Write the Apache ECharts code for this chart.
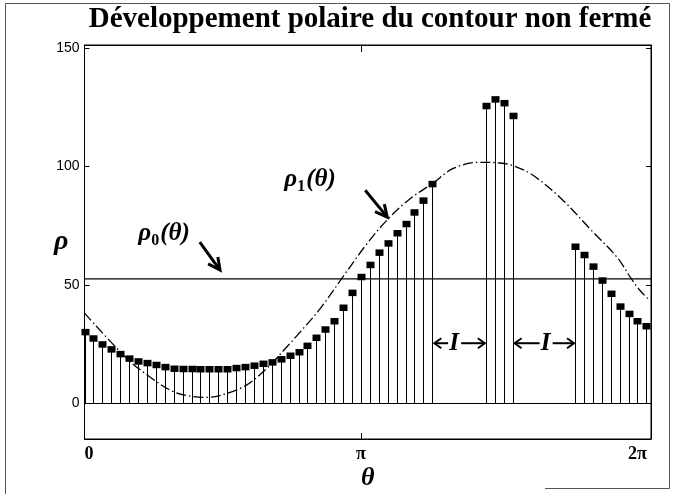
<!DOCTYPE html>
<html>
<head>
<meta charset="utf-8">
<script src="https://cdn.jsdelivr.net/npm/echarts@6/dist/echarts.min.js"></script>
<style>
html, body { margin: 0; padding: 0; background: #fff; }
#chart { width: 679px; height: 494px; }
</style>
</head>
<body>
<div id="chart"></div>
<script>
// Radius of the open contour at each angular sample (null where the contour has no point)
const rhoSamples = [
  30.1, 27.4, 24.9, 22.8, 20.8, 18.9, 17.7, 17.0, 16.2, 15.3,
  14.6, 14.5, 14.5, 14.4, 14.4, 14.4, 14.4, 14.9, 15.3, 15.9,
  16.7, 17.3, 18.6, 20.1, 21.6, 24.3, 27.7, 31.2, 34.7, 40.4,
  46.7, 53.4, 58.5, 63.7, 67.6, 71.9, 75.8, 80.7, 85.7, 92.7,
  null, null, null, null, null, 125.7, 128.5, 126.9, 121.5, null,
  null, null, null, null, null, 66.2, 62.7, 57.8, 51.9, 46.3,
  40.9, 37.8, 34.7, 32.6
];
// Angular sampling: number of samples per full turn
const samplesPerTurn = 62;

// Constant mean radius rho_0
const rho0 = 52.5;

// First-harmonic curve rho_1(theta)
const rho1Theta = [0, 0.48, 0.74, 1.01, 1.24, 1.39, 1.62, 1.84, 2.07, 2.30, 2.45, 2.68,
  2.92, 3.21, 3.45, 3.70, 3.96, 4.19, 4.49, 4.72, 4.87, 5.10, 5.43, 5.76, 6.05, 6.20, 6.31, 6.42];
const rho1Values = [38, 18.9, 11.1, 4.8, 2.7, 2.4, 4.1, 7.6, 14.6, 23.8, 30, 40,
  52.5, 67.4, 77.9, 86.4, 93, 99.2, 101.8, 101.5, 100.4, 96.2, 86, 73, 61.7, 53.3, 47.7, 43.5];

// Axis ticks
const thetaTicks = [0, Math.PI, 2 * Math.PI];
const thetaTickLabels = ['0', 'π', '2π'];
const rhoTicks = [0, 50, 100, 150];

const THETA_MAX = 6.437;
const RHO_MIN = -15.2;
const RHO_MAX = 151.4;

const step = 2 * Math.PI / samplesPerTurn;
const stemData = [];
rhoSamples.forEach((r, i) => { if (r !== null) stemData.push([i * step, r]); });
const rho1Data = rho1Theta.map((t, i) => [t, rho1Values[i]]);

const chart = echarts.init(document.getElementById('chart'), null, { renderer: 'canvas' });

const serif = '"Liberation Serif", "DejaVu Serif", serif';
const narrow = '"Liberation Sans Narrow", "Liberation Sans", sans-serif';

function thetaLabel(v) {
  for (let i = 0; i < thetaTicks.length; i++) {
    if (Math.abs(v - thetaTicks[i]) < 1e-6) return thetaTickLabels[i];
  }
  return '';
}

const option = {
  backgroundColor: '#fff',
  animation: false,
  grid: {
    left: 84.5, right: 28, top: 45, bottom: 55, outerBoundsMode: 'none', containLabel: false,
    show: true, borderColor: '#000', borderWidth: 1, backgroundColor: 'transparent'
  },
  xAxis: [
    {
      type: 'value', min: 0, max: THETA_MAX, position: 'bottom',
      name: 'θ', nameLocation: 'middle', nameGap: 26, nameMoveOverlap: false,
      nameTextStyle: { fontFamily: serif, fontStyle: 'italic', fontWeight: 'bold', fontSize: 26, color: '#000' },
      axisLine: { show: true, onZero: false, lineStyle: { color: '#000', width: 1 } },
      axisTick: { show: true, inside: true, length: 6, customValues: [Math.PI], lineStyle: { color: '#000' } },
      axisLabel: { customValues: thetaTicks, formatter: thetaLabel, margin: 6, alignMinLabel: 'left',
        fontFamily: serif, fontWeight: 'bold', fontSize: 18, color: '#000' },
      splitLine: { show: false }
    },
    {
      type: 'value', min: 0, max: THETA_MAX, position: 'top',
      axisLine: { show: true, onZero: false, lineStyle: { color: '#000', width: 1 } },
      axisTick: { show: true, inside: true, length: 7, customValues: [Math.PI], lineStyle: { color: '#000' } },
      axisLabel: { show: false }, splitLine: { show: false }
    }
  ],
  yAxis: [
    {
      type: 'value', min: RHO_MIN, max: RHO_MAX, position: 'left',
      name: 'ρ', nameLocation: 'middle', nameRotate: 0, nameGap: 16, nameMoveOverlap: false,
      nameTextStyle: { fontFamily: serif, fontStyle: 'italic', fontWeight: 'bold', fontSize: 28, color: '#000' },
      axisLine: { show: true, onZero: false, lineStyle: { color: '#000', width: 1 } },
      axisTick: { show: true, inside: true, length: 5, customValues: rhoTicks, lineStyle: { color: '#000' } },
      axisLabel: { customValues: rhoTicks, margin: 5, fontFamily: narrow, fontSize: 14, color: '#000' },
      splitLine: { show: false }
    },
    {
      type: 'value', min: RHO_MIN, max: RHO_MAX, position: 'right',
      axisLine: { show: true, onZero: false, lineStyle: { color: '#000', width: 1 } },
      axisTick: { show: true, inside: true, length: 5, customValues: rhoTicks, lineStyle: { color: '#000' } },
      axisLabel: { show: false }, splitLine: { show: false }
    }
  ],
  series: [
    {
      name: 'rho0', type: 'line', data: [[0, rho0], [THETA_MAX, rho0]],
      symbol: 'none', lineStyle: { color: '#000', width: 1.2 }, z: 3,
      markLine: {
        silent: true, symbol: 'none', label: { show: false },
        lineStyle: { color: '#000', width: 1.2, type: 'solid' },
        data: [{ yAxis: 0 }]
      }
    },
    {
      name: 'rho1', type: 'line', data: rho1Data, smooth: 0.35,
      symbol: 'none', lineStyle: { color: '#000', width: 1.3, type: [10, 3, 1.5, 3] }, z: 4
    },
    {
      name: 'contour', type: 'custom', data: stemData, z: 5,
      renderItem(params, api) {
        const t = api.value(0), r = api.value(1);
        const top = api.coord([t, r]);
        const base = api.coord([t, 0]);
        const x = Math.round(top[0]) + 0.5;
        return {
          type: 'group',
          children: [
            { type: 'line', shape: { x1: x, y1: top[1], x2: x, y2: base[1] }, style: { stroke: '#000', lineWidth: 1 } },
            { type: 'rect', shape: { x: x - 4, y: top[1] - 3, width: 8, height: 6.5 }, style: { fill: '#000' } }
          ]
        };
      }
    }
  ]
};

chart.setOption(option);

// ---- annotations (placed in data coordinates) ----
function px(t, r) { return chart.convertToPixel({ xAxisIndex: 0, yAxisIndex: 0 }, [t, r]); }

function arrow(from, to, width, headLen, headHalf) {
  const dx = to[0] - from[0], dy = to[1] - from[1];
  const len = Math.sqrt(dx * dx + dy * dy);
  const ux = dx / len, uy = dy / len;
  const bx = to[0] - ux * headLen, by = to[1] - uy * headLen;
  return [
    { type: 'line', shape: { x1: from[0], y1: from[1], x2: to[0] - ux * 1, y2: to[1] - uy * 1 }, style: { stroke: '#000', lineWidth: width } },
    { type: 'polyline', shape: { points: [[bx - uy * headHalf, by + ux * headHalf], [to[0], to[1]], [bx + uy * headHalf, by - ux * headHalf]] },
      style: { stroke: '#000', lineWidth: width, fill: null, lineJoin: 'miter' } }
  ];
}

function rhoLabel(anchor, sub) {
  const f = 'italic bold 25px ' + serif;
  return [
    { type: 'text', x: anchor[0], y: anchor[1], style: { text: 'ρ', font: f, fill: '#000', textVerticalAlign: 'middle' } },
    { type: 'text', x: anchor[0] + 13, y: anchor[1] + 7, style: { text: sub, font: 'bold 16px ' + serif, fill: '#000', textVerticalAlign: 'middle' } },
    { type: 'text', x: anchor[0] + 22, y: anchor[1], style: { text: '(θ)', font: f, fill: '#000', textVerticalAlign: 'middle' } }
  ];
}

function intervalMark(tLeft, tRight, tLabel, r) {
  const a = px(tLeft, r), b = px(tRight, r), c = px(tLabel, r);
  const out = [];
  out.push(...arrow([c[0] - 6, a[1]], [a[0] + 2, a[1]], 2, 7, 5));
  out.push(...arrow([c[0] + 7, a[1]], [b[0] - 1, a[1]], 2, 7, 5));
  out.push({ type: 'text', x: c[0], y: a[1], style: { text: 'I', font: 'italic bold 25px ' + serif, fill: '#000', textAlign: 'center', textVerticalAlign: 'middle' } });
  return out;
}

const elements = [];
elements.push({ type: 'text', x: 370, y: 20, style: { text: 'Développement polaire du contour non fermé', font: 'bold 29px ' + serif, fill: '#000', textAlign: 'center', textVerticalAlign: 'middle' } });
elements.push(...rhoLabel(px(0.61, 71.5), '0'));
elements.push(...arrow(px(1.31, 68), px(1.54, 56.2), 3, 12, 6));
elements.push(...rhoLabel(px(2.27, 94.3), '1'));
elements.push(...arrow(px(3.19, 90), px(3.44, 78.6), 3, 12, 6));
elements.push(...intervalMark(39 * step, 45 * step, 4.2, 25.3));
elements.push(...intervalMark(48 * step, 55 * step, 5.24, 25.3));
// page border
elements.push({ type: 'polyline', shape: { points: [[5.5, 494], [5.5, 3.5], [669.5, 3.5], [669.5, 488.5], [545, 488.5]] }, style: { stroke: '#555', lineWidth: 1, fill: null } });

chart.setOption({ graphic: { elements } });
</script>
</body>
</html>
